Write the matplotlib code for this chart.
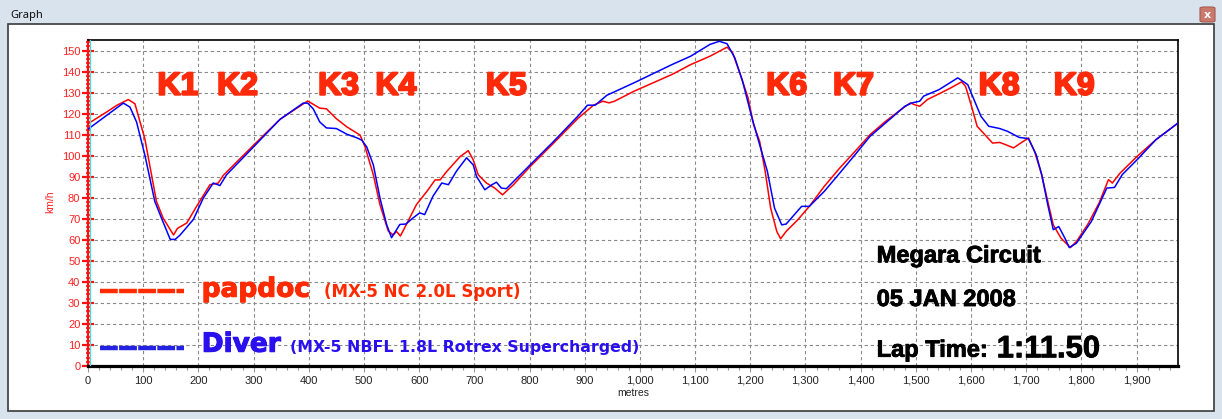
import matplotlib
matplotlib.use("Agg")
import matplotlib.pyplot as plt
from matplotlib.ticker import MultipleLocator, FuncFormatter
from matplotlib.patches import Rectangle, FancyBboxPatch
from matplotlib.lines import Line2D
from matplotlib.transforms import ScaledTranslation
import matplotlib.patheffects as pe

# ---------------- data ----------------
red_x = [0, 34, 52, 73, 85, 103, 124, 136, 155, 162, 179, 197, 221, 236, 245, 300, 348, 398, 420, 432,
         450, 469, 493, 502, 517, 529, 544, 553, 559, 566, 580, 595, 614, 629, 638, 650, 674, 689, 698, 707,
         722, 737, 751, 771, 801, 843, 888, 916, 933, 944, 954, 989, 1058, 1092, 1127, 1158, 1168, 1182,
         1196, 1206, 1217, 1227, 1237, 1248, 1255, 1265, 1286, 1307, 1334, 1362, 1390, 1417, 1445, 1473,
         1490, 1497, 1507, 1521, 1542, 1563, 1583, 1590, 1600, 1611, 1625, 1639, 1652, 1663, 1677, 1690,
         1704, 1715, 1728, 1739, 1749, 1763, 1780, 1791, 1811, 1832, 1849, 1856, 1870, 1901, 1935, 1975]
red_v = [115.2, 120.8, 123.9, 126.7, 124.7, 108, 78.3, 70.4, 62.3, 65.4, 68, 76, 86.2, 87, 90.6, 105, 117.3,
         126, 122.6, 122.3, 117.6, 113.7, 109.8, 104.2, 90.9, 76.7, 64.2, 62.3, 64, 61.8, 68.9, 76.7, 83,
         88.5, 88.5, 92.5, 99.5, 102.4, 98, 90.9, 87, 84.6, 81.4, 86.2, 94.8, 105.8, 117.8, 124, 125.9, 125.1,
         125.9, 130.6, 138.6, 143.3, 147.3, 151.6, 148.9, 138.6, 127.5, 114.8, 106.8, 92.5, 75, 64, 60.5, 64,
         69.5, 75.9, 85.4, 94.1, 102.1, 110, 116.3, 121.9, 125.1, 124.3, 123.5, 126.7, 129.4, 132.2, 135.1,
         133, 124.3, 114, 110, 106, 106.3, 105.2, 103.7, 106, 108.4, 102.1, 91, 78.3, 67.1, 60.8, 56.3, 59.2,
         67.1, 77.5, 88.6, 87, 91.7, 99.7, 107.6, 115.5]

blue_x = [0, 34, 64, 76, 88, 103, 121, 133, 149, 158, 167, 191, 209, 227, 239, 251, 300, 348, 390, 398, 408,
          420, 432, 450, 469, 487, 496, 505, 517, 529, 541, 550, 565, 576, 589, 601, 610, 625, 641, 653, 668,
          686, 698, 704, 719, 732, 740, 749, 758, 777, 801, 843, 888, 905, 919, 940, 989, 1058, 1092, 1127,
          1144, 1158, 1172, 1186, 1203, 1217, 1231, 1244, 1257, 1265, 1293, 1307, 1334, 1362, 1390, 1417,
          1452, 1480, 1493, 1507, 1514, 1542, 1576, 1594, 1604, 1618, 1632, 1652, 1666, 1687, 1704, 1718,
          1728, 1739, 1749, 1759, 1770, 1778, 1791, 1818, 1846, 1860, 1874, 1901, 1935, 1975]
blue_v = [112.6, 119.2, 125, 123.1, 116, 100.3, 78.3, 70.4, 60.2, 60.2, 62.3, 69.7, 79.9, 87, 85.8, 90.9,
          104.2, 117.3, 125, 125, 122.3, 116, 113.2, 112.9, 110.2, 108.5, 107.4, 104.2, 95.6, 79.9, 67.3, 61,
          67.3, 67.5, 70.4, 72.8, 72, 80.7, 87, 86.2, 92.8, 99, 95.6, 90.1, 83.8, 86.2, 87.4, 84.6, 84.3, 89.3,
          95.6, 106.6, 118.9, 124, 124, 128.7, 134.6, 143.3, 147.3, 152.9, 154.4, 153.2, 146.5, 135.4, 118,
          105.2, 92.5, 75, 67.1, 67.5, 75.9, 75.9, 83, 91.7, 100.5, 109.2, 117.1, 123.5, 125.1, 125.9, 128.3,
          131.4, 137, 133.8, 127.5, 118.7, 114, 112.9, 111.6, 108.7, 108.1, 100.5, 91, 76.7, 64.8, 66.3, 60.8,
          56.3, 58.4, 68.7, 84.6, 84.9, 91, 98.1, 107.6, 115.5]

corner_labels = ["K1", "K2", "K3", "K4", "K5", "K6", "K7", "K8", "K9"]
corner_x = [163, 271, 454, 558, 758, 1266, 1387, 1651, 1787]
corner_v = 129

x_ticks = list(range(0, 2000, 100))
y_ticks = list(range(0, 160, 10))

driver1 = "papdoc"
car1 = "(MX-5 NC 2.0L Sport)"
driver2 = "Diver"
car2 = "(MX-5 NBFL 1.8L Rotrex Supercharged)"
info_lines = ["Megara Circuit", "05 JAN 2008"]
lap_label = "Lap Time:"
lap_time = "1:11.50"

# ---------------- figure ----------------
W, H = 1222, 419
fig = plt.figure(figsize=(W / 100, H / 100), dpi=100)
fig.patch.set_facecolor("#d8e3ee")

def fx(px):
    return px / W

def fy(py):
    return 1 - py / H

# window panel
panel = Rectangle((fx(8), fy(411)), fx(1214) - fx(8), fy(24) - fy(411),
                  transform=fig.transFigure, facecolor="white", edgecolor="#3a3a3a",
                  lw=1.2, zorder=-5)
fig.add_artist(panel)
fig.text(fx(10), fy(18), "Graph", fontsize=8, family="Noto Sans", color="#111", va="baseline")
btn = FancyBboxPatch((fx(1200), fy(22)), fx(15), 15 / H, boxstyle="round,pad=0.0,rounding_size=0.003",
                     transform=fig.transFigure, facecolor="#c97a6c", edgecolor="#a65a50", lw=0.8)
fig.add_artist(btn)
fig.text(fx(1207.5), fy(14.5), "x", fontsize=8, color="white", ha="center", va="center",
         fontweight="bold")

L, R, T, B = 88, 1178, 40, 366
ax = fig.add_axes([fx(L), fy(B), fx(R) - fx(L), fy(T) - fy(B)])
ax.set_facecolor("white")

def axx(px):
    return (px - L) / (R - L)

def axy(py):
    return (B - py) / (B - T)

ax.plot(red_x, red_v, color="#ff0000", lw=1.1, zorder=3)
ax.plot(blue_x, blue_v, color="#0000ff", lw=1.1, zorder=3)

ax.set_xlim(0, 1975)
ax.set_ylim(0, 155)
ax.set_xticks(x_ticks)
ax.set_yticks(y_ticks)
ax.xaxis.set_major_formatter(FuncFormatter(lambda v, p: f"{int(v):,}"))
ax.xaxis.set_minor_locator(MultipleLocator(20))
ax.yaxis.set_minor_locator(MultipleLocator(2))

ax.grid(True, which="major", color="#8a8a8a", ls=(0, (3, 2.5)), lw=0.8)
ax.set_axisbelow(True)

for s in ("top", "right"):
    ax.spines[s].set_color("black")
    ax.spines[s].set_linewidth(1.2)
ax.spines["bottom"].set_color("black")
ax.spines["bottom"].set_linewidth(2.3)
ax.spines["left"].set_color("#ff1010")
ax.spines["left"].set_linewidth(1.6)

# cyan line next to the left spine
cyan_tr = ax.transAxes + ScaledTranslation(1.6 / 100, 0, fig.dpi_scale_trans)
ax.add_line(Line2D([0, 0], [0, 1], transform=cyan_tr, color="#40e0e0", lw=0.9, zorder=4))

ax.tick_params(axis="x", which="both", direction="out", color="#999999", labelsize=8,
               labelcolor="#222222", pad=3)
ax.tick_params(axis="x", which="major", length=4, width=0.8)
ax.tick_params(axis="x", which="minor", length=3, width=0.8)
ax.tick_params(axis="y", which="major", direction="inout", length=8, width=1.6, color="#ff1010",
               labelsize=8, labelcolor="#ff2020", pad=1.5)
ax.tick_params(axis="y", which="minor", direction="inout", length=3, width=1.2, color="#ff1010")
for lbl in ax.get_xticklabels() + ax.get_yticklabels():
    lbl.set_family("Liberation Sans")

ax.set_ylabel("km/h", color="#ff2020", fontsize=7.5, family="Liberation Sans")
ax.yaxis.set_label_coords(axx(55), axy(202))
ax.set_xlabel("metres", color="#222222", fontsize=7.5, family="Liberation Sans")
ax.xaxis.set_label_coords(0.5, axy(388))

# corner labels
kcol = "#ff2a0a"
for lab, xv in zip(corner_labels, corner_x):
    ax.text(xv, corner_v, lab, ha="center", va="baseline", color=kcol, fontsize=23,
            fontweight="bold", family="Liberation Sans", zorder=5,
            path_effects=[pe.withStroke(linewidth=1.5, foreground=kcol)])

# legend
rcol, bcol = "#ff2a00", "#2a10ee"
ax.add_line(Line2D([axx(100), axx(184)], [axy(290.7)] * 2, transform=ax.transAxes, color="#ff2a00",
                   lw=3.2, ls=(0, (4.0, 0.3)), solid_capstyle="butt", dash_capstyle="butt", zorder=5))
ax.add_line(Line2D([axx(100), axx(184)], [axy(348.3)] * 2, transform=ax.transAxes, color="#2222e0",
                   lw=3.2, ls=(0, (4.0, 0.3)), solid_capstyle="butt", dash_capstyle="butt", zorder=5))
big_r = [pe.withStroke(linewidth=0.8, foreground=rcol)]
big_b = [pe.withStroke(linewidth=0.8, foreground=bcol)]
ax.text(axx(201.7), axy(296.7), driver1, transform=ax.transAxes, color=rcol, fontsize=19,
        fontweight="bold", family="DejaVu Sans", va="baseline", zorder=5, path_effects=big_r)
ax.text(axx(323.8), axy(296.7), car1, transform=ax.transAxes, color=rcol, fontsize=12,
        fontweight="bold", family="DejaVu Sans", va="baseline", zorder=5)
ax.text(axx(201.7), axy(351.7), driver2, transform=ax.transAxes, color=bcol, fontsize=19,
        fontweight="bold", family="DejaVu Sans", va="baseline", zorder=5, path_effects=big_b)
ax.text(axx(289.7), axy(351.7), car2, transform=ax.transAxes, color=bcol, fontsize=11.3,
        fontweight="bold", family="DejaVu Sans", va="baseline", zorder=5)

# info block
stroke_k = [pe.withStroke(linewidth=0.6, foreground="black")]
for txt, by in zip(info_lines, [262.3, 306]):
    ax.text(axx(876.7), axy(by), txt, transform=ax.transAxes, color="black", fontsize=17,
            fontweight="bold", family="Liberation Sans", va="baseline", zorder=5, path_effects=stroke_k)
ax.text(axx(876.7), axy(356.7), lap_label, transform=ax.transAxes, color="black", fontsize=17,
        fontweight="bold", family="Liberation Sans", va="baseline", zorder=5, path_effects=stroke_k)
ax.text(axx(996.7), axy(357.3), lap_time, transform=ax.transAxes, color="black", fontsize=22.3,
        fontweight="bold", family="Liberation Sans", va="baseline", zorder=5, path_effects=stroke_k)

fig.savefig("out.png", dpi=100, facecolor=fig.get_facecolor())
